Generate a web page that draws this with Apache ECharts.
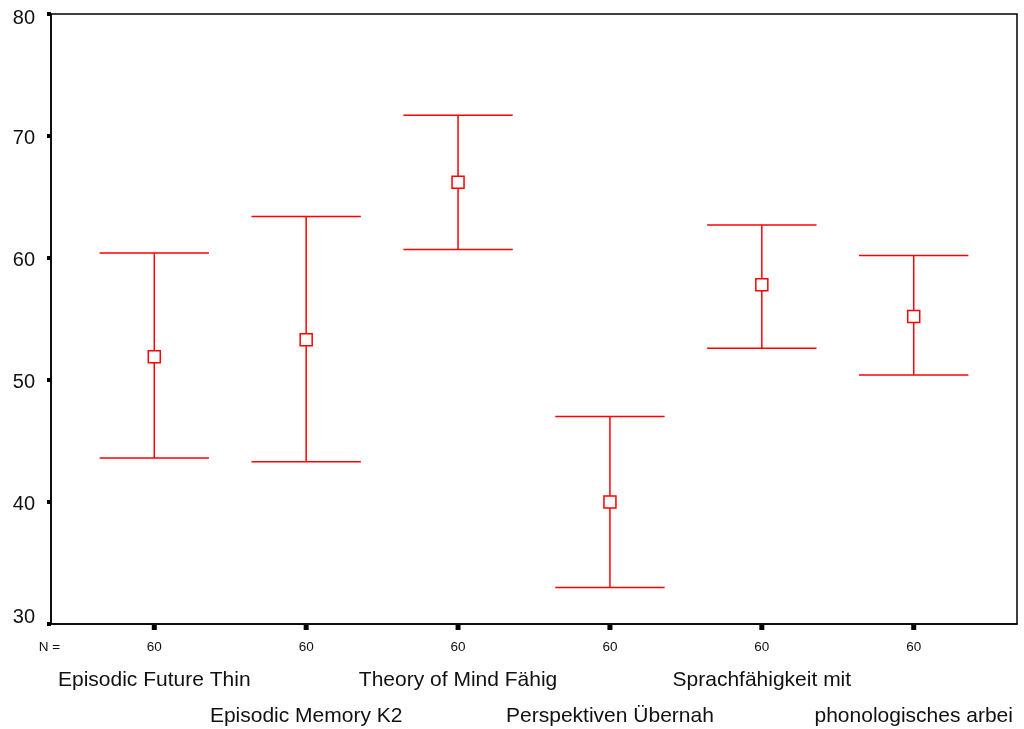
<!DOCTYPE html>
<html>
<head>
<meta charset="utf-8">
<script src="https://cdn.jsdelivr.net/npm/echarts@6/dist/echarts.min.js"></script>
<style>
  html, body { margin: 0; padding: 0; background: #fff; }
  #chart { width: 1024px; height: 729px; }
</style>
</head>
<body>
<div id="chart"></div>
<script>
// Error bar chart: mean with 95% confidence interval per scale
const categories = [
  'Episodic Future Thin',
  'Episodic Memory K2',
  'Theory of Mind Fähig',
  'Perspektiven Übernah',
  'Sprachfähigkeit mit',
  'phonologisches arbei'
];
const meanValues  = [51.9, 53.3, 66.2, 40.0, 57.8, 55.2];
const upperValues = [60.4, 63.4, 71.7, 47.0, 62.7, 60.2];
const lowerValues = [43.6, 43.3, 60.7, 33.0, 52.6, 50.4];
const nValues     = [60, 60, 60, 60, 60, 60];
const yTicks      = [30, 40, 50, 60, 70, 80];

const X_MIN = 0.32, X_MAX = 6.68;
const Y_MIN = yTicks[0], Y_MAX = yTicks[yTicks.length - 1];
const RED = '#ff0000';
const FONT = '"Liberation Sans", Arial, sans-serif';

const barData = categories.map((c, i) => [i + 1, lowerValues[i], upperValues[i], meanValues[i], nValues[i], i]);

function renderErrorBar(params, api) {
  const x = api.value(0);
  const idx = api.value(5);
  const lo = api.coord([x, api.value(1)]);
  const hi = api.coord([x, api.value(2)]);
  const mid = api.coord([x, api.value(3)]);
  const base = api.coord([x, Y_MIN]);
  const halfW = api.size([1, 0])[0] * 0.36;
  const box = 12;
  const lineStyle = { stroke: RED, lineWidth: 1.5, fill: null };
  const children = [
    { type: 'line', shape: { x1: hi[0], y1: hi[1], x2: lo[0], y2: lo[1] }, style: lineStyle },
    { type: 'line', shape: { x1: hi[0] - halfW, y1: hi[1], x2: hi[0] + halfW, y2: hi[1] }, style: lineStyle },
    { type: 'line', shape: { x1: lo[0] - halfW, y1: lo[1], x2: lo[0] + halfW, y2: lo[1] }, style: lineStyle },
    { type: 'rect', shape: { x: mid[0] - box / 2, y: mid[1] - box / 2, width: box, height: box },
      style: { fill: '#fff', stroke: RED, lineWidth: 1.5 } },
    // tick mark on the category axis
    { type: 'rect', shape: { x: base[0] - 2.5, y: base[1] + 1, width: 5, height: 5 }, style: { fill: '#000' } },
    // group size
    { type: 'text', x: base[0], y: base[1] + 23,
      style: { text: String(api.value(4)), fontSize: 13.5, fontFamily: FONT, fill: '#111', align: 'center', verticalAlign: 'middle' } },
    // scale name, alternating between two rows
    { type: 'text', x: base[0], y: base[1] + (idx % 2 === 0 ? 56 : 92),
      style: { text: categories[idx], fontSize: 21, fontFamily: FONT, fill: '#111', align: 'center', verticalAlign: 'middle' } }
  ];
  if (idx === 0) {
    const corner = api.coord([X_MIN, Y_MIN]);
    children.push({ type: 'text', x: corner[0] - 1.5, y: corner[1] + 23,
      style: { text: 'N =', fontSize: 13.5, fontFamily: FONT, fill: '#111', align: 'center', verticalAlign: 'middle' } });
  }
  return { type: 'group', children };
}

const chart = echarts.init(document.getElementById('chart'), null, { renderer: 'canvas' });
chart.setOption({
  animation: false,
  backgroundColor: '#fff',
  grid: { left: 51, top: 14, right: 7, bottom: 105, show: true, borderColor: '#000', borderWidth: 1.5, containLabel: false },
  xAxis: {
    type: 'value', min: X_MIN, max: X_MAX,
    axisLine: { show: true, lineStyle: { color: '#000', width: 1.5 } },
    axisTick: { show: false }, axisLabel: { show: false }, splitLine: { show: false }
  },
  yAxis: {
    type: 'value', min: Y_MIN, max: Y_MAX, interval: 10,
    axisLine: { show: true, lineStyle: { color: '#000', width: 1.5 } },
    axisTick: { show: true, inside: false, length: 4, lineStyle: { color: '#000', width: 4 } },
    axisLabel: {
      show: true, margin: 16, fontSize: 20, fontFamily: FONT, color: '#111',
      // end labels are kept inside the axis span
      formatter: v => v === Y_MIN ? '{lo|' + v + '}' : (v === Y_MAX ? '{hi|' + v + '}' : '{mid|' + v + '}'),
      rich: {
        lo:  { fontSize: 20, fontFamily: FONT, color: '#111', padding: [0, 0, 14, 0] },
        hi:  { fontSize: 20, fontFamily: FONT, color: '#111', padding: [9, 0, 0, 0] },
        mid: { fontSize: 20, fontFamily: FONT, color: '#111', padding: [4, 0, 0, 0] }
      }
    },
    splitLine: { show: false }
  },
  series: [{
    type: 'custom',
    clip: false,
    renderItem: renderErrorBar,
    data: barData,
    encode: { x: 0, y: [1, 2, 3] }
  }]
});
</script>
</body>
</html>
